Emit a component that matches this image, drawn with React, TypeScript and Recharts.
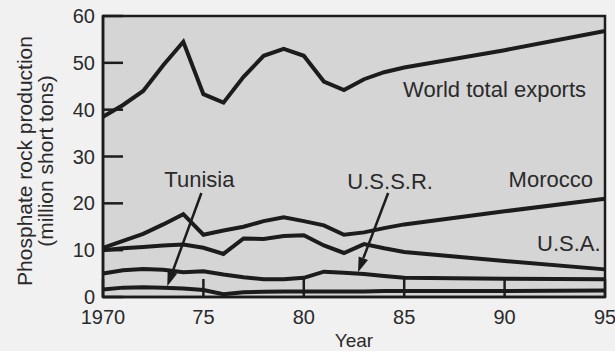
import { LineChart, Line, XAxis, YAxis, CartesianGrid, ReferenceArea, ReferenceLine, ReferenceDot, Label } from 'recharts';

const years = [1970, 1971, 1972, 1973, 1974, 1975, 1976, 1977, 1978, 1979, 1980, 1981, 1982, 1983, 1984, 1985, 1990, 1995];
const worldExports = [38.5, 41, 44, 49.5, 54.5, 43.3, 41.5, 47, 51.5, 53, 51.5, 46, 44.2, 46.5, 48, 49, 52.7, 56.8];
const morocco = [10.5, 12, 13.5, 15.5, 17.7, 13.3, 14.2, 15, 16.2, 17, 16.2, 15.3, 13.3, 13.8, 14.7, 15.5, 18.3, 21];
const usa = [10, 10.4, 10.7, 11, 11.2, 10.5, 9.2, 12.5, 12.4, 13, 13.2, 11, 9.4, 11.3, 10.4, 9.6, 7.7, 5.9];
const ussr = [5, 5.7, 6, 5.8, 5.3, 5.5, 4.8, 4.2, 3.8, 3.8, 4.1, 5.4, 5.2, 4.9, 4.5, 4.1, 3.9, 3.8];
const tunisia = [1.6, 2, 2.1, 2, 1.8, 1.5, 0.6, 1, 1.1, 1.2, 1.2, 1.2, 1.2, 1.2, 1.3, 1.3, 1.3, 1.4];

const xTicks = [1970, 1975, 1980, 1985, 1990, 1995];
const yTicks = [0, 10, 20, 30, 40, 50, 60];

// series labels: [text, year, value]
const seriesLabels: [string, number, number][] = [
  ['World total exports', 1989.5, 44.2],
  ['Tunisia', 1974.8, 25],
  ['U.S.S.R.', 1984.3, 24.6],
  ['Morocco', 1992.3, 25],
  ['U.S.A.', 1993.2, 11.5],
];

// arrows: from label down to the line
const arrows = [
  { from: [1974.9, 22.2], to: [1973.2, 2.3] },
  { from: [1984.2, 22.2], to: [1982.7, 5.3] },
];

const data = years.map((year, i) => ({
  year,
  world: worldExports[i],
  morocco: morocco[i],
  usa: usa[i],
  ussr: ussr[i],
  tunisia: tunisia[i],
}));

const FONT = '"Liberation Sans", Arial, Helvetica, sans-serif';
const INK = '#1c1c1c';

const Arrow = (props: any) => {
  const { x1, y1, x2, y2 } = props;
  const dx = x2 - x1;
  const dy = y2 - y1;
  const len = Math.sqrt(dx * dx + dy * dy);
  const ux = dx / len;
  const uy = dy / len;
  const hl = 15;
  const hw = 5;
  const bx = x2 - ux * hl;
  const by = y2 - uy * hl;
  const pts = `${x2},${y2} ${bx - uy * hw},${by + ux * hw} ${bx + uy * hw},${by - ux * hw}`;
  return (
    <g>
      <line x1={x1} y1={y1} x2={bx} y2={by} stroke={INK} strokeWidth={2.5} />
      <polygon points={pts} fill={INK} />
    </g>
  );
};

const YTitle = () => (
  <g fontFamily={FONT} fontSize={21} fill="#2a2a2a" textAnchor="middle">
    <text transform="translate(32,161) rotate(-90)">Phosphate rock production</text>
    <text transform="translate(53,161) rotate(-90)">(million short tons)</text>
  </g>
);

export default function App() {
  return (
    <div style={{ position: 'absolute', left: 0, top: 0, width: 615, height: 351, background: '#f1f1f1' }}>
      <LineChart width={615} height={351} data={data} margin={{ top: 16, right: 10, bottom: 0, left: 0 }}>
        <CartesianGrid horizontal={false} vertical={false} fill="#d5d5d5" />
        <XAxis
          dataKey="year"
          type="number"
          domain={[1970, 1995]}
          ticks={xTicks}
          tickFormatter={(v: number) => (v === 1970 ? '1970' : String(v).slice(2))}
          height={54}
          tickSize={-18}
          tickMargin={31}
          axisLine={{ stroke: INK, strokeWidth: 2.5 }}
          tickLine={{ stroke: INK, strokeWidth: 2.5 }}
          tick={{ fontSize: 20, fill: '#2a2a2a', fontFamily: FONT }}
        >
          <Label value="Year" position="insideBottom" offset={4} style={{ fontSize: 19, fill: '#2a2a2a', fontFamily: FONT }} />
        </XAxis>
        <YAxis
          type="number"
          domain={[0, 60]}
          ticks={yTicks}
          width={103}
          tickSize={-20}
          tickMargin={28}
          axisLine={{ stroke: INK, strokeWidth: 2.5 }}
          tickLine={{ stroke: INK, strokeWidth: 2.5 }}
          tick={{ fontSize: 20, fill: '#2a2a2a', fontFamily: FONT }}
          label={{ content: () => <YTitle /> }}
        />
        <ReferenceArea x1={1970} x2={1995} y1={0} y2={60} fill="none" stroke={INK} strokeWidth={2.5} />
        <Line type="linear" dataKey="world" stroke={INK} strokeWidth={4} dot={false} isAnimationActive={false} />
        <Line type="linear" dataKey="morocco" stroke={INK} strokeWidth={4} dot={false} isAnimationActive={false} />
        <Line type="linear" dataKey="usa" stroke={INK} strokeWidth={4} dot={false} isAnimationActive={false} />
        <Line type="linear" dataKey="ussr" stroke={INK} strokeWidth={4} dot={false} isAnimationActive={false} />
        <Line type="linear" dataKey="tunisia" stroke={INK} strokeWidth={4} dot={false} isAnimationActive={false} />
        {arrows.map((a, i) => (
          <ReferenceLine
            key={i}
            segment={[{ x: a.from[0], y: a.from[1] }, { x: a.to[0], y: a.to[1] }]}
            shape={Arrow}
          />
        ))}
        {seriesLabels.map(([text, x, y]) => (
          <ReferenceDot
            key={text}
            x={x}
            y={y}
            r={0}
            fill="none"
            stroke="none"
            label={{
              content: (p: any) => {
                const vb = p.viewBox || {};
                const cx = vb.x + (vb.width || 0) / 2;
                const cy = vb.y + (vb.height || 0) / 2;
                return (
                  <text x={cx} y={cy} textAnchor="middle" dominantBaseline="central" fontSize={22} fontFamily={FONT} fill="#2a2a2a">
                    {text}
                  </text>
                );
              },
            }}
          />
        ))}
      </LineChart>
    </div>
  );
}
